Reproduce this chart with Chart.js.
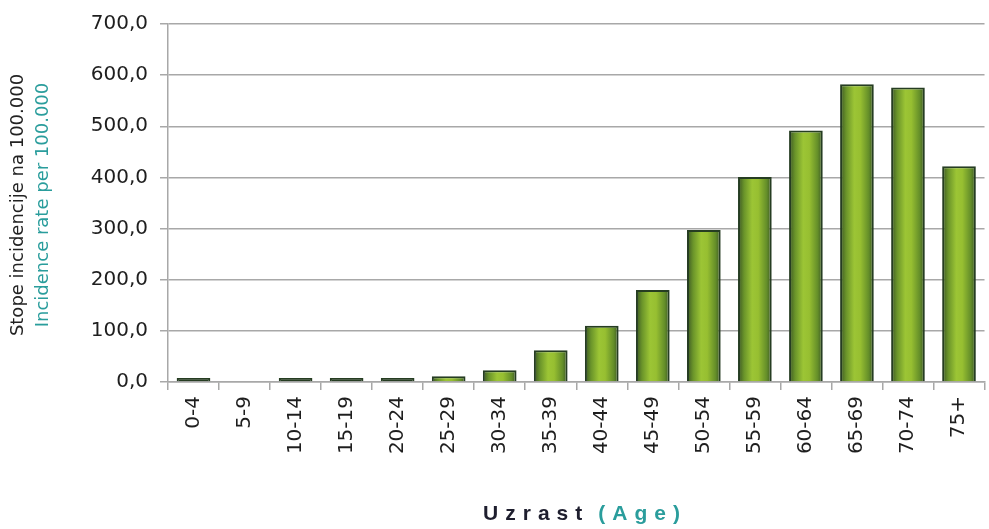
<!DOCTYPE html>
<html>
<head>
<meta charset="utf-8">
<script src="https://cdn.jsdelivr.net/npm/chart.js@4"></script>
<style>
  html, body { margin: 0; padding: 0; background: #fff; }
  #wrap { width: 989px; height: 529px; position: relative; }
</style>
</head>
<body>
<div id="wrap"><canvas id="chart"></canvas></div>
<script>
const ageGroups = ['0-4', '5-9', '10-14', '15-19', '20-24', '25-29', '30-34', '35-39',
  '40-44', '45-49', '50-54', '55-59', '60-64', '65-69', '70-74', '75+'];
const incidenceRate = [3, 0, 3, 3.5, 3.5, 11, 23, 62, 110, 180, 297, 401, 492, 582, 576, 422];
const yTitleLocal = 'Stope incidencije na 100.000';
const yTitleEn = 'Incidence rate per 100.000';
const xTitleLocal = 'Uzrast';
const xTitleEn = '(Age)';

const teal = '#2a9d9c';
const edge = '#263d22';
const tickFont = '"DejaVu Sans", "Liberation Sans", sans-serif';
const titleFont = '"Liberation Sans", Arial, sans-serif';

const barFill = (context) => {
  const chart = context.chart;
  const xs = chart.scales.x;
  if (context.raw === 0) return 'rgba(0,0,0,0)';
  // very short bars show up only as their dark outline
  if (context.raw < 5) return edge;
  if (!xs || !chart.chartArea) return '#8db52f';
  const cx = xs.getPixelForValue(context.dataIndex);
  const w = (xs.width / ageGroups.length) * 0.66;
  const g = chart.ctx.createLinearGradient(cx - w / 2, 0, cx + w / 2, 0);
  g.addColorStop(0, '#3a5524');
  g.addColorStop(0.18, '#6a942a');
  g.addColorStop(0.42, '#9cc535');
  g.addColorStop(0.6, '#97bf31');
  g.addColorStop(0.85, '#648e29');
  g.addColorStop(1, '#3a5524');
  return g;
};

const titlesPlugin = {
  id: 'titles',
  afterDraw(chart) {
    const ctx = chart.ctx;
    ctx.save();
    // y-axis title, two coloured lines
    ctx.translate(0, 205);
    ctx.rotate(-Math.PI / 2);
    ctx.textAlign = 'center';
    ctx.textBaseline = 'middle';
    ctx.font = '18px ' + tickFont;
    ctx.fillStyle = '#222';
    ctx.fillText(yTitleLocal, 0, 18);
    ctx.fillStyle = teal;
    ctx.fillText(yTitleEn, 0, 43);
    ctx.restore();

    // x-axis title, letter-spaced, two colours
    ctx.save();
    ctx.font = 'bold 21px ' + titleFont;
    ctx.letterSpacing = '7px';
    ctx.textBaseline = 'alphabetic';
    ctx.textAlign = 'left';
    const gap = 9;
    const w1 = ctx.measureText(xTitleLocal).width;
    const w2 = ctx.measureText(xTitleEn).width;
    const x = 585 - (w1 + gap + w2) / 2;
    ctx.fillStyle = '#1e1e2e';
    ctx.fillText(xTitleLocal, x, 520);
    ctx.fillStyle = teal;
    ctx.fillText(xTitleEn, x + w1 + gap, 520);
    ctx.restore();
  },
};

new Chart(document.getElementById('chart'), {
  type: 'bar',
  data: {
    labels: ageGroups,
    datasets: [{
      data: incidenceRate,
      backgroundColor: barFill,
      borderColor: edge,
      borderWidth: (c) => (c.raw === 0 ? 0 : 2),
      minBarLength: 4,
      barPercentage: 0.66,
      categoryPercentage: 1,
    }],
  },
  options: {
    responsive: true,
    maintainAspectRatio: false,
    animation: false,
    layout: { padding: { left: 60, top: 21, right: 0, bottom: 0 } },
    plugins: {
      legend: { display: false },
      tooltip: { enabled: false },
    },
    scales: {
      x: {
        offset: true,
        afterFit: (s) => { s.height = 147; },
        grid: {
          offset: true,
          drawOnChartArea: false,
          color: '#a8a8a8',
          lineWidth: 1.5,
          tickLength: 8,
        },
        border: { color: '#a8a8a8', width: 1.5 },
        ticks: {
          minRotation: 90,
          maxRotation: 90,
          autoSkip: false,
          padding: 6,
          color: '#1e1e1e',
          font: { family: tickFont, size: 20 },
        },
      },
      y: {
        min: 0,
        max: 700,
        afterFit: (s) => { s.width = 108; },
        grid: {
          color: '#a8a8a8',
          lineWidth: 1.5,
          tickLength: 8,
        },
        border: { color: '#a8a8a8', width: 1.5 },
        ticks: {
          stepSize: 100,
          padding: 12,
          color: '#1e1e1e',
          font: { family: tickFont, size: 20 },
          callback: (v) => v.toFixed(1).replace('.', ','),
        },
      },
    },
  },
  plugins: [titlesPlugin],
});
</script>
</body>
</html>
